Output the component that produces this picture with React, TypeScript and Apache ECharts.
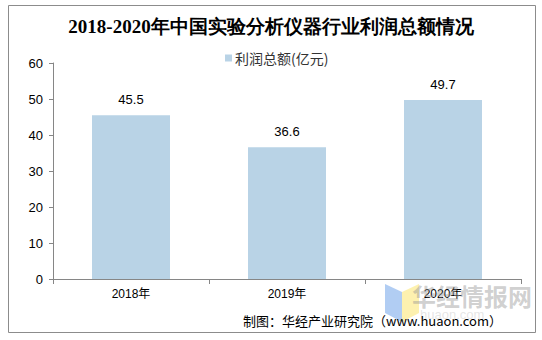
import React, { useEffect, useRef } from "react";
import * as echarts from "echarts";

const title = "2018-2020年中国实验分析仪器行业利润总额情况";
const seriesName = "利润总额(亿元)";
const categories = ["2018年", "2019年", "2020年"];
const values = [45.5, 36.6, 49.7];
const source = "制图：华经产业研究院（www.huaon.com）";

export default function App() {
  const ref = useRef<HTMLDivElement>(null);
  useEffect(() => {
    document.body.style.margin = "0";
    const chart = echarts.init(ref.current!, null, { renderer: "svg" });
    chart.setOption({
      animation: false,
      backgroundColor: "#ffffff",
      title: {
        text: title,
        left: "center",
        top: 12,
        textStyle: { fontFamily: "serif", fontSize: 19, fontWeight: "bold", color: "#000" },
      },
      legend: {
        data: [seriesName],
        top: 46,
        left: 220,
        itemWidth: 7,
        itemHeight: 7,
        itemGap: 3,
        icon: "rect",
        textStyle: { fontSize: 14, color: "#333", fontFamily: "Noto Sans CJK SC", padding: [0, 0, 0, -2] },
      },
      grid: { left: 53, right: 21, top: 63, bottom: 61 },
      xAxis: {
        type: "category",
        data: categories,
        axisLine: { lineStyle: { color: "#868686" } },
        axisTick: { show: true, alignWithLabel: false, length: 5, lineStyle: { color: "#868686" } },
        axisLabel: { color: "#000", fontSize: 12, margin: 9, fontFamily: "Liberation Sans, Noto Sans CJK SC" },
      },
      yAxis: {
        type: "value",
        min: 0,
        max: 60,
        interval: 10,
        splitLine: { show: false },
        axisLine: { show: true, lineStyle: { color: "#868686" } },
        axisTick: { show: true, length: 4, inside: false, lineStyle: { color: "#868686" } },
        axisLabel: { color: "#000", fontSize: 13, margin: 10, fontFamily: "Liberation Sans" },
      },
      series: [
        {
          name: seriesName,
          type: "bar",
          data: values,
          barWidth: "50%",
          itemStyle: { color: "#b9d3e6" },
          label: {
            show: true,
            position: "top",
            distance: 9,
            color: "#000",
            fontSize: 13,
            fontFamily: "Liberation Sans",
          },
        },
      ],
      graphic: [
        {
          type: "rect",
          shape: { x: 8.5, y: 5.5, width: 527, height: 327 },
          style: { fill: "none", stroke: "#8c8c8c", lineWidth: 1 },
          silent: true,
          z: 0,
        },
        {
          type: "polygon",
          shape: { points: [[385, 284], [402, 292], [402, 322], [385, 313]] },
          style: { fill: "#a9c8f2", opacity: 0.9 },
          z: 10,
        },
        {
          type: "polygon",
          shape: { points: [[402, 292], [419, 284], [419, 313], [402, 322]] },
          style: { fill: "#fdf0a6", opacity: 0.9 },
          z: 10,
        },
        {
          type: "text",
          x: 412,
          y: 283,
          style: { text: "华经情报网", fontSize: 24, fontWeight: "bold", fill: "rgba(150,150,150,0.45)", fontFamily: "Noto Sans CJK SC" },
          z: 10,
        },
        {
          type: "text",
          x: 420,
          y: 308,
          style: { text: "huaon.com", fontSize: 13, fill: "rgba(180,180,180,0.35)", fontFamily: "Liberation Sans", letterSpacing: 2 },
          z: 10,
        },
        {
          type: "text",
          right: 40,
          top: 314,
          style: { text: source, fontSize: 13, fill: "#000", fontFamily: "Noto Sans CJK SC" },
          z: 11,
        },
      ],
    });
    return () => chart.dispose();
  }, []);
  return <div ref={ref} style={{ width: 542, height: 340 }} />;
}
